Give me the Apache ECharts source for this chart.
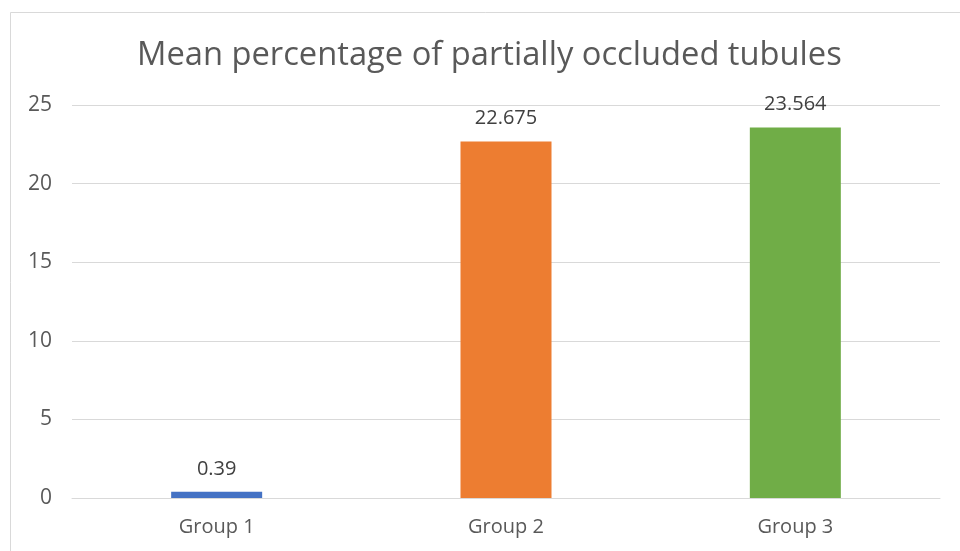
<!DOCTYPE html>
<html>
<head>
<meta charset="utf-8">
<script src="https://cdn.jsdelivr.net/npm/echarts@6/dist/echarts.min.js"></script>
<style>
    html, body { margin: 0; padding: 0; background: #fff; }
    #main { width: 960px; height: 551px; }
</style>
</head>
<body>
<div id="main"></div>
<script>
// data
var categories = ['Group 1', 'Group 2', 'Group 3'];
var values = [0.39, 22.675, 23.564];
var barColors = ['#4472C4', '#ED7D31', '#70AD47'];
var yTicks = [0, 5, 10, 15, 20, 25];

var textColor = '#595959';
var font = '"Open Sans", "Liberation Sans", sans-serif';

var myChart = echarts.init(document.getElementById('main'));

var option = {
    backgroundColor: '#fff',
    animation: false,
    title: {
        text: 'Mean percentage of partially occluded tubules',
        left: 132,
        top: 34,
        textStyle: { color: textColor, fontSize: 32.7, fontWeight: 'normal', fontFamily: font }
    },
    // outer chart frame, only the top and left edges show in the picture
    graphic: [{
        type: 'polyline',
        shape: { points: [[10.5, 560], [10.5, 12.5], [970, 12.5]] },
        style: { stroke: '#d9d9d9', lineWidth: 1, fill: null },
        silent: true
    }],
    grid: { left: 72, right: 20, top: 105, bottom: 53 },
    xAxis: {
        type: 'category',
        data: categories,
        axisTick: { show: false },
        axisLine: { lineStyle: { color: '#d9d9d9', width: 1 } },
        axisLabel: { color: textColor, fontSize: 20, fontFamily: font, margin: 19 }
    },
    yAxis: {
        type: 'value',
        min: yTicks[0],
        max: yTicks[yTicks.length - 1],
        interval: 5,
        axisLine: { show: false },
        axisTick: { show: false },
        splitLine: { lineStyle: { color: '#d9d9d9', width: 1 } },
        axisLabel: { color: textColor, fontSize: 21, fontFamily: font, margin: 20 }
    },
    series: [{
        type: 'bar',
        barWidth: 91,
        data: values.map(function (v, i) {
            return { value: v, itemStyle: { color: barColors[i] } };
        }),
        label: {
            show: true,
            position: 'top',
            distance: 13,
            color: '#404040',
            fontSize: 20,
            fontFamily: font
        }
    }]
};

myChart.setOption(option);
</script>
</body>
</html>
